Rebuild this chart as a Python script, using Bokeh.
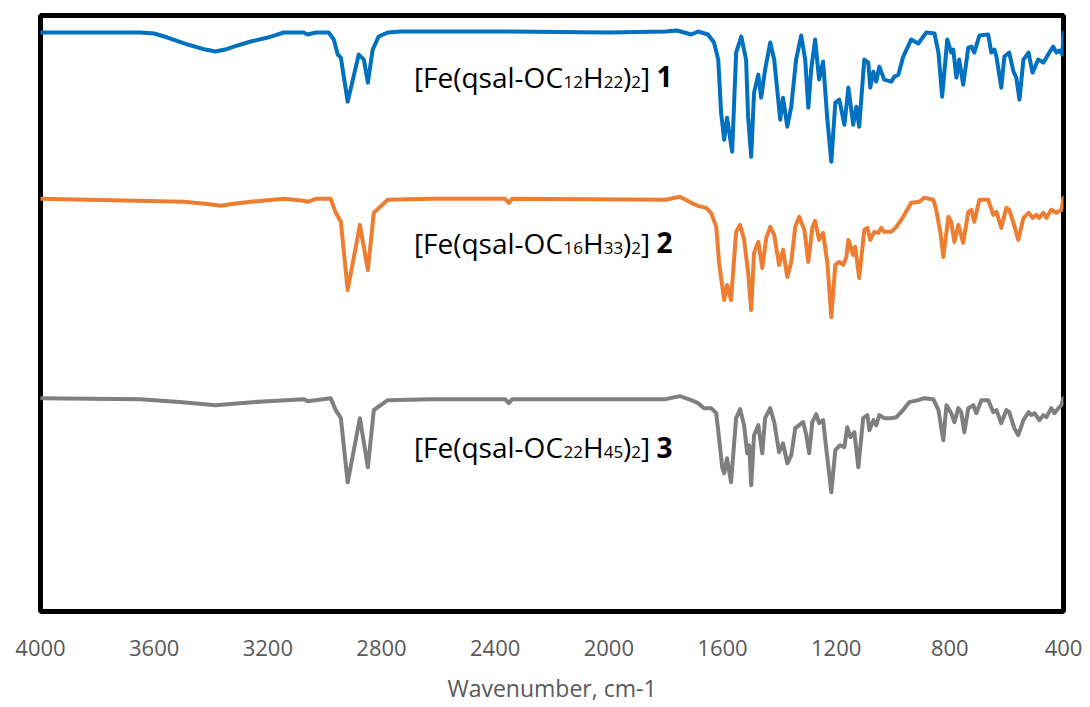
from bokeh.plotting import figure
from bokeh.models import Range1d, FixedTicker, Label
from bokeh.embed import file_html
from bokeh.resources import INLINE

# ---------------- data (wavenumber, offset transmittance) ----------------
tick_values = [4000, 3600, 3200, 2800, 2400, 2000, 1600, 1200, 800, 400]

wn_1 = [4000, 3648, 3600, 3553, 3482, 3420, 3384, 3350, 3320, 3260, 3200, 3144, 3074, 3060, 3031, 2986, 2968,
        2954, 2943, 2919, 2880, 2862, 2848, 2831, 2810, 2778, 2732, 2352, 2000, 1800, 1760,
        1710, 1686, 1651, 1630, 1615, 1605, 1594, 1584, 1566, 1552, 1534, 1517, 1510, 1499,
        1489, 1474, 1464, 1450, 1432, 1418, 1397, 1387, 1372, 1358, 1341, 1323, 1309, 1298,
        1288, 1274, 1260, 1246, 1231, 1217, 1203, 1189, 1171, 1157, 1140, 1129, 1119, 1101,
        1087, 1080, 1069, 1059, 1048, 1031, 1006, 995, 981, 964, 936, 911, 883, 854, 840, 827,
        809, 795, 788, 777, 767, 753, 735, 724, 714, 696, 665, 654, 643, 636, 619, 608, 591,
        576, 566, 555, 541, 523, 509, 489, 471, 460, 450, 436, 425, 414, 404, 400]
t_1 = [579, 579, 578, 574, 567, 562, 560, 562, 565, 570, 574, 579, 579, 577, 579, 579, 572,
       557, 554, 510, 557, 552, 529, 562, 575, 579, 580, 580, 579, 580, 581,
       577, 580, 577, 569, 552, 499, 472, 494, 460, 559, 575, 552, 495, 455,
       519, 537, 514, 542, 569, 552, 492, 514, 485, 505, 552, 576, 552, 504,
       542, 572, 532, 550, 492, 450, 509, 512, 487, 524, 487, 505, 485, 552,
       549, 524, 540, 530, 545, 532, 530, 535, 537, 555, 572, 568, 579, 578, 559, 515,
       572, 559, 562, 534, 552, 527, 564, 565, 559, 576, 577, 559, 562, 555, 524, 555, 559,
       540, 534, 512, 552, 559, 539, 552, 549, 554, 559, 565, 559, 561, 557, 579]

wn_2 = [4000, 3496, 3420, 3366, 3320, 3260, 3144, 3074, 3060, 3031, 2979, 2961, 2943, 2919, 2876, 2848,
        2827, 2778, 2626, 2365, 2352, 2340, 1800, 1750, 1710, 1686, 1658, 1640, 1622, 1612,
        1594, 1584, 1570, 1552, 1538, 1524, 1510, 1499, 1489, 1474, 1460, 1446, 1432, 1418,
        1401, 1387, 1372, 1358, 1344, 1330, 1312, 1298, 1284, 1274, 1260, 1246, 1231, 1217,
        1203, 1189, 1175, 1164, 1157, 1140, 1133, 1119, 1101, 1090, 1080, 1066, 1052, 1041,
        1031, 1006, 988, 964, 936, 907, 890, 858, 848, 833, 823, 805, 795, 784, 770, 753, 735,
        724, 714, 696, 665, 647, 636, 619, 601, 591, 576, 559, 541, 523, 509, 495, 485, 471,
        460, 443, 425, 407, 400]
t_2 = [413, 410, 408, 406, 408, 410, 413, 411, 410, 413, 413, 399, 390, 322, 387, 342,
       399, 412, 413, 413, 409, 413, 412, 415, 409, 406, 404, 399, 385, 349,
       312, 327, 312, 380, 387, 372, 340, 302, 359, 370, 344, 374, 385, 377,
       347, 362, 335, 350, 385, 395, 382, 350, 384, 391, 372, 379, 349, 295,
       347, 350, 347, 355, 372, 357, 365, 334, 382, 384, 372, 380, 379, 384,
       380, 380, 385, 395, 409, 410, 414, 412, 402, 379, 355, 395, 390, 370, 387, 369, 400,
       402, 390, 412, 412, 397, 400, 384, 404, 402, 389, 372, 394, 399, 394, 397, 394, 399,
       394, 402, 399, 402, 414]

wn_3 = [4000, 3648, 3500, 3384, 3300, 3200, 3074, 3060, 2979, 2961, 2943, 2919, 2876, 2848, 2827, 2778,
        2626, 2365, 2352, 2340, 1800, 1750, 1710, 1686, 1665, 1640, 1622, 1612, 1601, 1594,
        1584, 1570, 1552, 1538, 1524, 1513, 1506, 1499, 1489, 1474, 1460, 1450, 1432, 1418,
        1401, 1387, 1372, 1358, 1344, 1330, 1316, 1305, 1295, 1284, 1270, 1260, 1246, 1235,
        1217, 1203, 1186, 1171, 1161, 1150, 1136, 1122, 1105, 1090, 1083, 1069, 1059, 1048,
        1031, 1006, 988, 971, 943, 911, 890, 858, 840, 830, 823, 812, 795, 784, 770, 760, 749,
        735, 717, 707, 689, 665, 647, 636, 619, 601, 591, 573, 559, 541, 523, 513, 502, 485,
        471, 460, 443, 432, 418, 407, 400]
t_3 = [214, 213, 210, 207, 209, 211, 213, 211, 214, 202, 194, 130, 194, 145, 202, 212,
       213, 213, 209, 213, 213, 216, 212, 209, 204, 204, 199, 174, 145, 139,
       154, 130, 194, 203, 187, 159, 167, 127, 177, 187, 159, 194, 204, 190,
       160, 169, 149, 157, 184, 187, 190, 177, 159, 190, 198, 189, 192, 164,
       120, 162, 167, 165, 185, 175, 180, 145, 194, 197, 182, 192, 187, 197,
       194, 194, 195, 200, 210, 212, 214, 213, 202, 184, 172, 207, 199, 190, 204, 200, 180,
       204, 207, 199, 212, 212, 200, 202, 189, 202, 200, 184, 177, 192, 200, 197, 199, 192,
       197, 195, 204, 199, 204, 207, 214]

series_colors = ["#0070C0", "#ED7D31", "#7F7F7F"]

# compound labels: list of (text, style) pieces
label_1 = [("[Fe(qsal-OC", "main"), ("12", "sub"), ("H", "main"), ("22", "sub"),
           (")", "main"), ("2", "sub"), ("] ", "main"), ("1", "bold")]
label_2 = [("[Fe(qsal-OC", "main"), ("16", "sub"), ("H", "main"), ("33", "sub"),
           (")", "main"), ("2", "sub"), ("] ", "main"), ("2", "bold")]
label_3 = [("[Fe(qsal-OC", "main"), ("22", "sub"), ("H", "main"), ("45", "sub"),
           (")", "main"), ("2", "sub"), ("] ", "main"), ("3", "bold")]
label_anchor_wn = [2686, 2686, 2686]
label_anchor_t = [535, 369, 165]

# ---------------- figure ----------------
p = figure(width=1090, height=707, output_backend="svg", toolbar_location=None,
           x_range=Range1d(4000, 400), y_range=Range1d(1, 596),
           min_border_left=40, min_border_right=27, min_border_top=15, min_border_bottom=96)
p.background_fill_color = "white"
p.border_fill_color = "white"
p.outline_line_color = "black"
p.outline_line_width = 5
p.xgrid.visible = False
p.ygrid.visible = False
p.yaxis.visible = False

ax = p.xaxis[0]
ax.ticker = FixedTicker(ticks=tick_values)
ax.axis_line_color = None
ax.major_tick_line_color = None
ax.minor_tick_line_color = None
ax.major_tick_out = 0
ax.major_tick_in = 0
ax.minor_tick_out = 0
ax.minor_tick_in = 0
ax.major_label_text_font = "Open Sans"
ax.major_label_text_font_size = "22px"
ax.major_label_text_color = "#595959"
ax.major_label_standoff = 28
ax.axis_label = "Wavenumber, cm-1"
ax.axis_label_text_font = "Open Sans"
ax.axis_label_text_font_size = "23px"
ax.axis_label_text_font_style = "normal"
ax.axis_label_text_color = "#595959"
ax.axis_label_standoff = 13

for wn, t, c in zip([wn_1, wn_2, wn_3], [t_1, t_2, t_3], series_colors):
    p.line(wn, t, line_color=c, line_width=4, line_join="round", line_cap="round")

# approximate Open Sans advance widths (em)
W = {"[": 0.298, "]": 0.298, "(": 0.291, ")": 0.291, "-": 0.322, " ": 0.26,
     "C": 0.634, "F": 0.56, "H": 0.738, "O": 0.781, "a": 0.556, "e": 0.561,
     "l": 0.253, "q": 0.613, "s": 0.476}
SIZES = {"main": 28, "sub": 17, "bold": 28}
SUB_DROP = 5  # subscript baseline drop (data units == px here)


def text_width(s, size):
    return sum(W.get(ch, 0.572) for ch in s) * size


for pieces, xa, ya in zip([label_1, label_2, label_3], label_anchor_wn, label_anchor_t):
    off = 0.0
    for txt, style in pieces:
        size = SIZES[style]
        p.add_layout(Label(x=xa, y=(ya - SUB_DROP if style == "sub" else ya),
                           x_units="data", y_units="data", text=txt,
                           x_offset=off,
                           text_font="Open Sans", text_font_size=f"{size}px",
                           text_font_style=("bold" if style == "bold" else "normal"),
                           text_color="black", text_baseline="alphabetic",
                           text_align="left"))
        off += text_width(txt, size)

open("out.html", "w").write(file_html(p, INLINE))
